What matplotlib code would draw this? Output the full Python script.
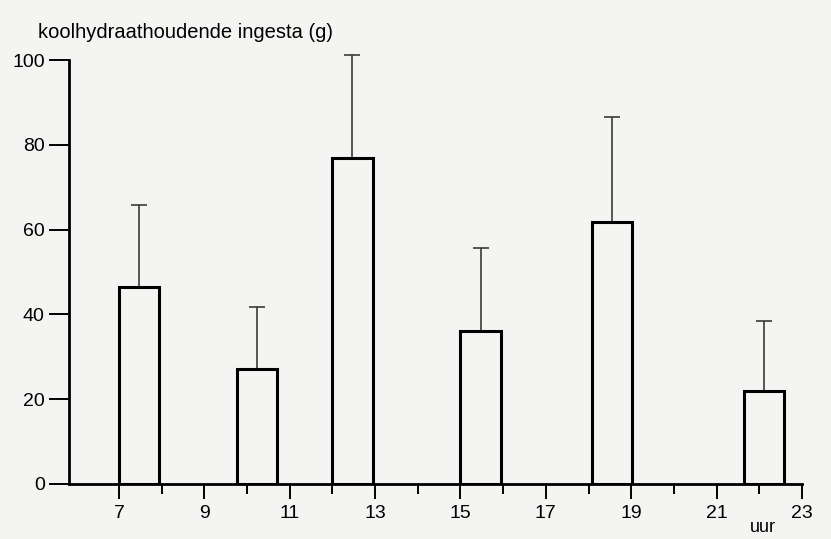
import matplotlib.pyplot as plt
from matplotlib.ticker import MultipleLocator, FixedLocator

# start of each eating period (hour) and mean carbohydrate intake (g) with SD
start_uur = [7.0, 9.76, 12.0, 15.0, 18.07, 21.64]
ingesta = [46.5, 27.1, 77.0, 36.1, 61.9, 22.0]
sd = [19.4, 14.6, 24.2, 19.6, 24.7, 16.5]
xticks = [7, 9, 11, 13, 15, 17, 19, 21, 23]
xticks_klein = [8, 10, 12, 14, 16, 18, 20, 22]

breedte = 0.94
bg = '#f4f4f2'

plt.rcParams['font.family'] = ['Liberation Sans', 'DejaVu Sans']

fig = plt.figure(figsize=(8.31, 5.39), dpi=100, facecolor=bg)
ax = fig.add_axes([69/831, 1-484/539, (802-69)/831, (484-60)/539])
ax.set_facecolor(bg)

centers = [s + breedte/2 for s in start_uur]
ax.bar(start_uur, ingesta, width=breedte, align='edge', facecolor=bg,
       edgecolor='black', linewidth=2.2, zorder=3)
ax.errorbar(centers, ingesta, yerr=[[0]*len(sd), sd], fmt='none',
            ecolor='#3a3a3a', elinewidth=1.2, capsize=6, capthick=1.2,
            zorder=2, clip_on=False)

ax.set_xlim(5.83, 23)
ax.set_ylim(0, 100)
ax.xaxis.set_major_locator(FixedLocator(xticks))
ax.xaxis.set_minor_locator(FixedLocator(xticks_klein))
ax.set_xticklabels([str(t) for t in xticks])
ax.yaxis.set_major_locator(MultipleLocator(20))

for s in ['top', 'right']:
    ax.spines[s].set_visible(False)
for s in ['left', 'bottom']:
    ax.spines[s].set_linewidth(2)
    ax.spines[s].set_zorder(4)

ax.tick_params(axis='y', length=14.5, width=1.4, pad=3, labelsize=14)
ax.tick_params(axis='x', which='major', length=11, width=1.4, pad=4, labelsize=14)
ax.tick_params(axis='x', which='minor', length=7.5, width=1.4)

fig.text(38/831, 1-32/539, 'koolhydraathoudende ingesta (g)', fontsize=14.5,
         va='center', ha='left')
fig.text(763/831, 1-528/539, 'uur', fontsize=13, va='center', ha='center')

fig.savefig('out.png', dpi=100, facecolor=bg)
